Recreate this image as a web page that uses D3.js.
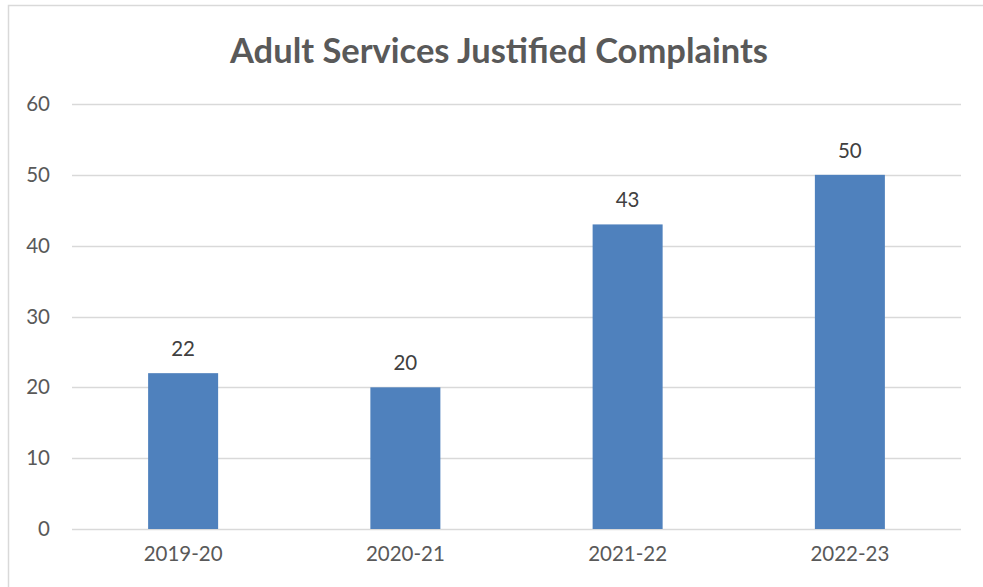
<!DOCTYPE html>
<html><head><meta charset="utf-8">
<script src="https://cdn.jsdelivr.net/npm/d3@7"></script>
<style>html,body{margin:0;padding:0;background:#fff;overflow:hidden}</style>
</head><body>
<svg id="c" width="983" height="587"></svg>
<script>
const categories = ["2019-20","2020-21","2021-22","2022-23"];
const values = [22,20,43,50];
const yTicks = [0,10,20,30,40,50,60];
const title = "Adult Services Justified Complaints";

const svg = d3.select("#c");
const font = "Lato, 'Open Sans', sans-serif";
svg.append("rect").attr("x",8.5).attr("y",5.5).attr("width",1000).attr("height",700)
  .attr("fill","#fff").attr("stroke","#d9d9d9").attr("stroke-width",1.5);

const x = d3.scaleBand().domain(categories).range([72,961]).paddingInner(0.685).paddingOuter(0.3425);
const y = d3.scaleLinear().domain([0,60]).range([529,104]);

svg.append("text").attr("x",499).attr("y",63).attr("text-anchor","middle")
  .attr("font-family",font).attr("font-weight","bold").attr("font-size",34.5).attr("fill","#595959").text(title);

const g = svg.append("g");
g.selectAll("line.grid").data(yTicks).join("line").attr("class","grid")
  .attr("x1",72).attr("x2",961).attr("y1",d=>Math.round(y(d))+0.5).attr("y2",d=>Math.round(y(d))+0.5)
  .attr("stroke","#d9d9d9").attr("stroke-width",1.5);

const yAxis = d3.axisLeft(y).tickValues(yTicks).tickSize(0).tickPadding(0);
const ya = svg.append("g").attr("transform","translate(50,0)").call(yAxis);
ya.select(".domain").remove();
ya.selectAll("text").attr("font-family",font).attr("font-size",20.5).attr("fill","#595959");

const xAxis = d3.axisBottom(x).tickSize(0).tickPadding(0);
const xa = svg.append("g").attr("transform","translate(0,0)").call(xAxis);
xa.select(".domain").remove();
xa.selectAll("text").attr("font-family",font).attr("font-size",20.5).attr("fill","#595959")
  .attr("y",561).attr("dy",null);

g.selectAll("rect.bar").data(values).join("rect").attr("class","bar")
  .attr("x",(d,i)=>x(categories[i])).attr("width",x.bandwidth())
  .attr("y",d=>y(d)).attr("height",d=>y(0)-y(d)).attr("fill","#4f81bd");

g.selectAll("text.lab").data(values).join("text").attr("class","lab")
  .attr("x",(d,i)=>x(categories[i])+x.bandwidth()/2).attr("y",d=>y(d)-17)
  .attr("text-anchor","middle").attr("font-family",font).attr("font-size",20.5).attr("fill","#404040").text(d=>d);
</script>
</body></html>
